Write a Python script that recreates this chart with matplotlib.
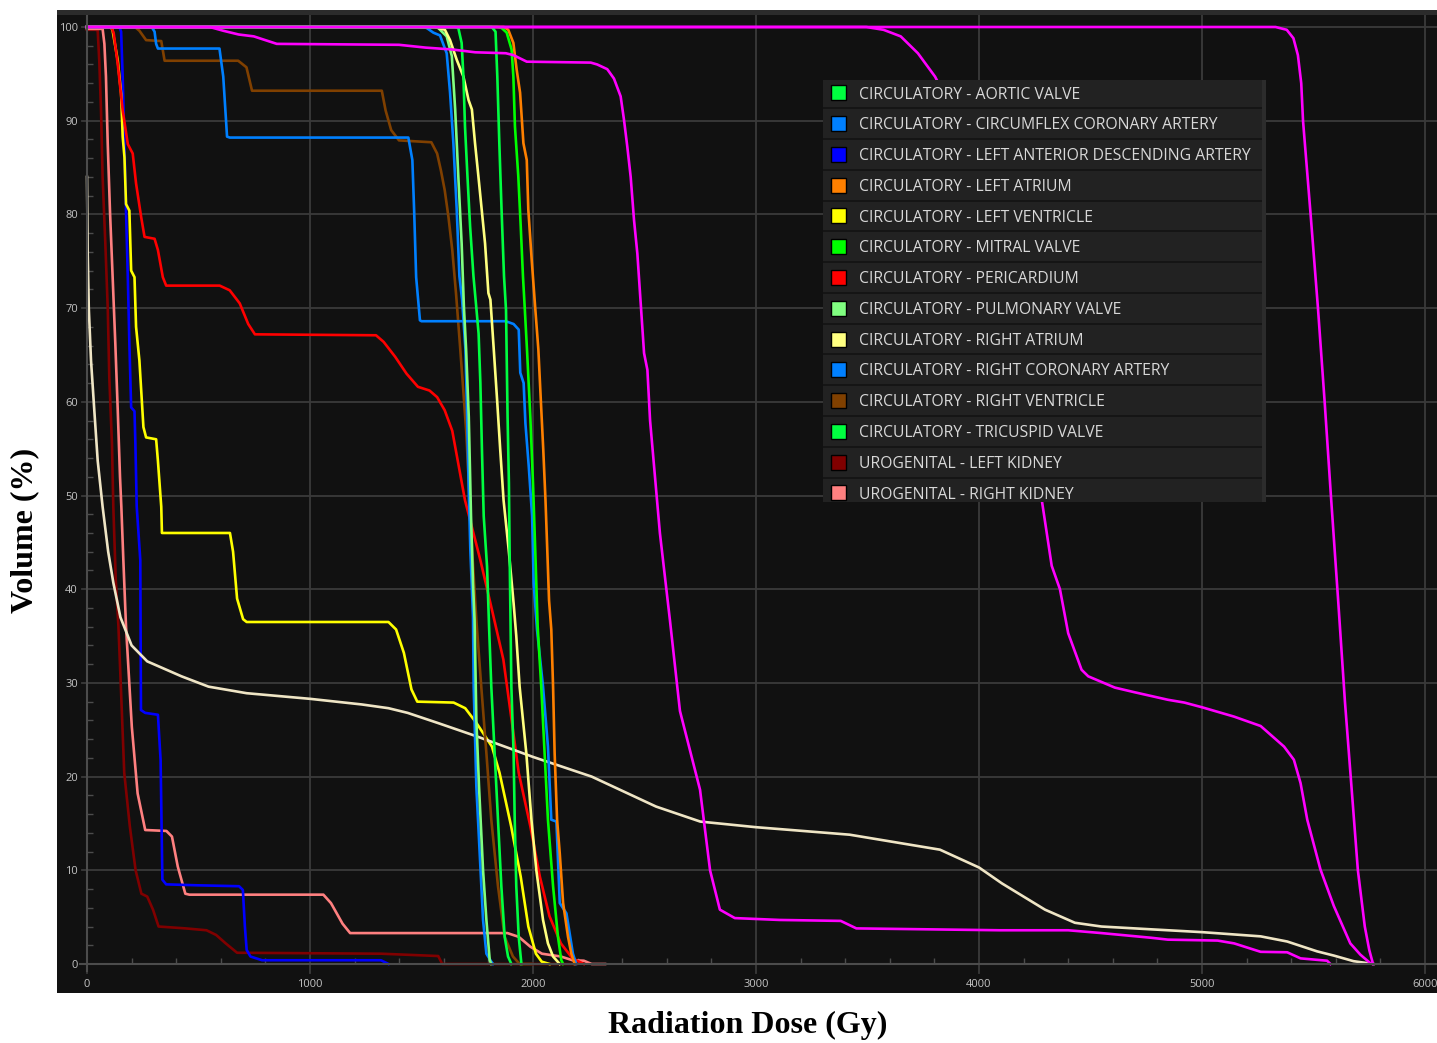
import matplotlib
matplotlib.use("Agg")
import matplotlib.pyplot as plt
from matplotlib.patches import Rectangle
from matplotlib.ticker import FixedLocator

W, H = 1437, 1043

# ---- data (dose in Gy, volume in %) ----
names = [
    "CIRCULATORY - AORTIC VALVE",
    "CIRCULATORY - CIRCUMFLEX CORONARY ARTERY",
    "CIRCULATORY - LEFT ANTERIOR DESCENDING ARTERY",
    "CIRCULATORY - LEFT ATRIUM",
    "CIRCULATORY - LEFT VENTRICLE",
    "CIRCULATORY - MITRAL VALVE",
    "CIRCULATORY - PERICARDIUM",
    "CIRCULATORY - PULMONARY VALVE",
    "CIRCULATORY - RIGHT ATRIUM",
    "CIRCULATORY - RIGHT CORONARY ARTERY",
    "CIRCULATORY - RIGHT VENTRICLE",
    "CIRCULATORY - TRICUSPID VALVE",
    "UROGENITAL - LEFT KIDNEY",
    "UROGENITAL - RIGHT KIDNEY",
]
colors = ["#00ff40", "#0080ff", "#0000ff", "#ff8000", "#ffff00", "#00ff00", "#ff0000",
          "#80ff80", "#ffff80", "#0080ff", "#804000", "#00ff40", "#800000", "#ff8080"]

aortic_d = [0, 1815, 1832, 1840, 1849, 1859, 1870, 1879, 1886, 1892, 1895, 1903, 1913, 1918, 1925, 1936, 1948]
aortic_v = [100, 100, 99.5, 94.7, 87.6, 80.5, 73.4, 69.8, 58.4, 51.3, 44.2, 29.6, 22.5, 15.4, 8.3, 2.9, 0]

circumflex_d = [0, 1505, 1523, 1553, 1583, 1613, 1628, 1643, 1658, 1670, 1682, 1697, 1704, 1711, 1719,
                1731, 1734, 1746, 1761, 1776, 1791, 1813, 1821]
circumflex_v = [100, 100, 99.9, 99.4, 99.1, 97.2, 93, 87.6, 80.5, 73.4, 70.9, 65.6, 59.1, 51.3, 44.2,
                37, 29.6, 18.9, 11.8, 4.7, 1.1, 0.25, 0]

lad_d = [0, 145, 153, 160, 168, 175, 183, 190, 198, 213, 217, 223, 239, 242, 261, 318, 330, 338, 355,
         493, 682, 699, 708, 716, 733, 785, 1318, 1352]
lad_v = [100, 100, 99.5, 94.7, 87.5, 80.4, 73.3, 66.2, 59.4, 59, 55.5, 48.8, 43.1, 27.1, 26.8, 26.6, 21.8, 9, 8.5,
         8.4, 8.3, 7.9, 4, 1.5, 0.8, 0.4, 0.4, 0]

latrium_d = [0, 1870, 1889, 1912, 1927, 1942, 1957, 1972, 1979, 1994, 2010, 2024, 2035, 2046, 2056, 2064,
             2072, 2082, 2090, 2097, 2108, 2120, 2135, 2157, 2172, 2187]
latrium_v = [100, 100, 99.7, 98.3, 95.4, 93, 87.6, 85.8, 80.5, 75.2, 70, 65.6, 60.2, 54.9, 49.5, 44.2,
             38.8, 35.7, 29.6, 22.5, 15.4, 11.8, 6.5, 2.9, 1.1, 0]

lvent_d = [0, 108, 115, 138, 153, 160, 168, 175, 190, 198, 213, 220, 235, 253, 265, 310, 318, 333, 336,
           641, 655, 673, 700, 716, 1352, 1386, 1421, 1455, 1481, 1644, 1696, 1747, 1816, 1850, 1902,
           1945, 1979, 2013, 2039, 2074]
lvent_v = [100, 100, 99.6, 96.4, 92.9, 88.3, 86.1, 81.1, 80.4, 74, 73.3, 68, 64.4, 57.3, 56.2, 56, 53.7, 48.8, 46,
           46, 44, 39, 36.8, 36.5, 36.5, 35.7, 33.2, 29.3, 28, 27.9, 27.3, 25.7, 23.2, 20.4, 14.7,
           9.3, 4, 1.1, 0.25, 0]

mitral_d = [0, 1840, 1859, 1882, 1904, 1912, 1919, 1934, 1945, 1955, 1963, 1973, 1988, 2000, 2010, 2021,
            2037, 2052, 2067, 2090, 2112, 2127, 2135]
mitral_v = [100, 100, 99.9, 99.4, 97.6, 94.7, 89.4, 84.1, 78.7, 73.4, 70, 65.6, 58.4, 51.3, 44.2, 36,
            29.6, 22.5, 15.4, 8.3, 2.9, 0.4, 0]

peri_d = [0, 110, 120, 138, 160, 183, 205, 220, 243, 258, 303, 318, 340, 355, 595, 640, 685, 723, 753,
          1296, 1330, 1382, 1433, 1484, 1536, 1570, 1604, 1638, 1695, 1764, 1816, 1867, 1902, 1936,
          1988, 2031, 2074, 2125, 2177, 2228]
peri_v = [100, 100, 99.3, 96, 91.1, 87.5, 86.5, 83.3, 79.7, 77.6, 77.4, 76.2, 73.3, 72.4, 72.4, 71.9, 70.5, 68.3, 67.2,
          67.1, 66.4, 64.8, 63, 61.6, 61.2, 60.5, 59.1, 56.9, 49.5, 43.1, 37.8, 32.5, 26.4, 20.4,
          14.7, 9.3, 5.1, 2.2, 0.6, 0]

pulm_d = [0, 1560, 1575, 1613, 1636, 1651, 1665, 1680, 1690, 1700, 1712, 1722, 1731, 1738, 1746, 1758,
          1776, 1791, 1806, 1813]
pulm_v = [100, 100, 99.9, 99, 96.9, 91.2, 84.1, 76.9, 70.2, 65.6, 58.4, 47.8, 40.6, 36.7, 26, 18.9,
          10, 4.7, 0.4, 0]

ratrium_d = [0, 1560, 1575, 1605, 1628, 1658, 1688, 1711, 1726, 1740, 1755, 1770, 1785, 1800, 1809, 1824,
             1839, 1853, 1868, 1891, 1913, 1925, 1940, 1970, 1993, 2015, 2045, 2067, 2090, 2120]
ratrium_v = [100, 100, 99.9, 99.7, 98.6, 96.5, 94.7, 92.2, 91.2, 87.6, 84.1, 80.5, 76.9, 71.6, 70.9, 65.6,
             60.2, 54.9, 49.5, 44.2, 38.5, 35, 29.6, 22.5, 15.4, 10, 4.7, 2.2, 0.8, 0]

rca_d = [0, 290, 303, 310, 318, 594, 611, 628, 640, 1441, 1459, 1467, 1476, 1493, 1500, 1878, 1913,
         1936, 1943, 1958, 1966, 1981, 1996, 2003, 2018, 2045, 2067, 2082, 2105, 2120, 2150, 2179, 2194]
rca_v = [100, 100, 99.5, 98.2, 97.7, 97.7, 94.7, 88.3, 88.2, 88.2, 85.8, 80.4, 73.3, 68.7, 68.6, 68.6, 68.3,
         67.7, 63.1, 62, 57.7, 53.1, 47.8, 40.6, 35.7, 29.6, 23.2, 15.4, 15.2, 6.5, 5.4, 1.1, 0]

rvent_d = [0, 215, 235, 265, 333, 348, 363, 678, 715, 740, 1322, 1339, 1364, 1399, 1544, 1570, 1587,
           1604, 1621, 1638, 1655, 1672, 1685, 1700, 1715, 1730, 1746, 1768, 1791, 1813, 1843, 1873,
           1910, 1940, 1990]
rvent_v = [100, 100, 99.6, 98.6, 98.5, 96.4, 96.4, 96.4, 95.7, 93.2, 93.2, 91.1, 89, 87.9, 87.7, 86.5, 84.7,
           82.6, 79.7, 76.2, 71.5, 66.2, 62, 57, 50, 43, 36.7, 29.6, 22.5, 15.4, 8.3, 2.9,
           0.8, 0, 0]

tricusp_d = [0, 1650, 1665, 1680, 1688, 1695, 1706, 1718, 1733, 1746, 1756, 1764, 1771, 1779, 1794, 1803,
             1813, 1828, 1843, 1858, 1873, 1888, 1903]
tricusp_v = [100, 100, 99.9, 98.3, 94.7, 89.4, 84.1, 78.7, 73.4, 70, 67.3, 62, 54.9, 47.8, 42.4, 36,
             29.6, 22.5, 15.4, 8.3, 2.9, 0.8, 0]

lkid_d = [0, 40, 48, 55, 63, 70, 82, 93, 100, 112, 118, 129, 141, 153, 167, 192, 218, 244, 270, 296, 321,
          442, 536, 579, 622, 673, 1318, 1575, 1593, 2197]
lkid_v = [99.7, 99.7, 99.6, 96.4, 91, 84, 77, 70, 62.6, 55.5, 48.8, 41, 36, 28.9, 20.4, 14.7, 10, 7.5, 7.2, 5.8, 4,
          3.8, 3.6, 3.1, 2.2, 1.2, 1.1, 0.85, 0, 0]

rkid_d = [0, 70, 78, 85, 93, 103, 115, 127, 138, 148, 154, 163, 175, 201, 227, 261, 356, 381, 407, 441,
          459, 1060, 1094, 1146, 1180, 1885, 1936, 1988, 2040, 2125, 2177, 2228, 2263, 2323]
rkid_v = [99.8, 99.8, 98.2, 94.7, 87.5, 80.4, 73.3, 66.2, 59, 52, 48.8, 43.1, 36, 25.3, 18.2, 14.3, 14.2, 13.6, 10.4, 7.5,
          7.4, 7.4, 6.5, 4.3, 3.3, 3.3, 2.9, 1.85, 1.1, 0.8, 0.4, 0.35, 0, 0]

# curves without a visible legend entry
cream_d = [0, 3, 8, 18, 33, 48, 70, 95, 118, 150, 200, 270, 424, 545, 716, 1000, 1232, 1352, 1438, 1576,
           1747, 2000, 2263, 2552, 2750, 3000, 3420, 3825, 4000, 4103, 4296, 4430, 4549, 4772, 5000,
           5263, 5382, 5516, 5591, 5680, 5769]
cream_v = [84, 76, 70, 64.4, 59, 53.7, 48.8, 44, 40.7, 37, 34, 32.3, 30.7, 29.6, 28.9, 28.3, 27.7, 27.3, 26.8, 25.7,
           24.3, 22.1, 20, 16.8, 15.2, 14.6, 13.8, 12.2, 10.3, 8.6, 5.8, 4.4, 4.0, 3.7, 3.4,
           2.95, 2.4, 1.35, 0.9, 0.3, 0]

magA_d = [0, 551, 611, 680, 748, 851, 1399, 1519, 1638, 1741, 1878, 1912, 1972, 2259, 2288, 2333, 2363,
          2393, 2408, 2423, 2438, 2453, 2468, 2483, 2498, 2513, 2525, 2569, 2614, 2659, 2704, 2749,
          2794, 2838, 2905, 3107, 3380, 3450, 4094, 4400, 4549, 4772, 4847, 5070, 5144, 5263, 5382,
          5442, 5561, 5576]
magA_v = [100, 100, 99.6, 99.2, 99, 98.2, 98.1, 97.8, 97.6, 97.3, 97.2, 97, 96.3, 96.2, 96.0, 95.5, 94.5,
          92.6, 90.1, 87.2, 84, 79.4, 75.8, 70.5, 65.2, 63.4, 58, 46, 36.7, 27, 22.8, 18.6,
          10, 5.8, 4.9, 4.7, 4.6, 3.8, 3.6, 3.6, 3.3, 2.8, 2.6, 2.5, 2.2, 1.3, 1.25,
          0.6, 0.35, 0]

magB_d = [0, 3495, 3572, 3649, 3726, 3803, 3879, 3950, 4050, 4150, 4230, 4281, 4326, 4363, 4400, 4460,
          4490, 4609, 4698, 4847, 4921, 5000, 5144, 5263, 5368, 5412, 5442, 5472, 5531, 5591, 5665,
          5710, 5754]
magB_v = [100, 100, 99.7, 99, 97.2, 94.7, 91.2, 82, 70, 60, 53, 49.6, 42.5, 40, 35.3, 31.4,
          30.7, 29.5, 29, 28.2, 27.9, 27.4, 26.4, 25.4, 23.2, 21.8, 19.3, 15.4, 10.1, 6.2, 2.2,
          1.0, 0.1]

magC_d = [0, 5330, 5380, 5410, 5430, 5445, 5453, 5487, 5520, 5550, 5578, 5610, 5641, 5670, 5699, 5730,
          5750, 5767]
magC_v = [100, 100, 99.7, 98.8, 97, 94, 90, 80, 70, 60, 50, 39, 28, 19, 10, 4, 1.5, 0]

curves = [
    (lkid_d, lkid_v, colors[12]),
    (rkid_d, rkid_v, colors[13]),
    (lad_d, lad_v, colors[2]),
    (lvent_d, lvent_v, colors[4]),
    (peri_d, peri_v, colors[6]),
    (cream_d, cream_v, "#efe5c5"),
    (rvent_d, rvent_v, colors[10]),
    (rca_d, rca_v, colors[9]),
    (circumflex_d, circumflex_v, colors[1]),
    (pulm_d, pulm_v, colors[7]),
    (ratrium_d, ratrium_v, colors[8]),
    (latrium_d, latrium_v, colors[3]),
    (mitral_d, mitral_v, colors[5]),
    (tricusp_d, tricusp_v, colors[11]),
    (aortic_d, aortic_v, colors[0]),
    (magC_d, magC_v, "#ff00ff"),
    (magB_d, magB_v, "#ff00ff"),
    (magA_d, magA_v, "#ff00ff"),
]

# ---- layout helpers (image pixel coords, origin top-left) ----
def fx(px):
    return px / W

def fy(py):
    return 1 - py / H

def box(x0, y0, x1, y1, color, **kw):
    r = Rectangle((fx(x0), fy(y1)), (x1 - x0) / W, (y1 - y0) / H, transform=fig.transFigure,
                  facecolor=color, edgecolor=kw.pop("ec", "none"), **kw)
    fig.add_artist(r)
    return r

fig = plt.figure(figsize=(W / 100, H / 100), dpi=100, facecolor="white")
ax = fig.add_axes([fx(57), fy(993), (1437 - 57) / W, (993 - 15) / H])
ax.set_facecolor("#111111")
box(57, 10, 1437, 15, "#2b2b2b")

# axis scale: 0 Gy at px 87, 223 px per 1000 Gy; 0 % at px 964, 100 % at px 27
gy_px = 0.223
pct_px = (964 - 27) / 100
xmin, xmax = -(87 - 57) / gy_px, (1437 - 87) / gy_px
ymin, ymax = -(993 - 964) / pct_px, 100 + (27 - 15) / pct_px
ax.set_xlim(xmin, xmax)
ax.set_ylim(ymin, ymax)

grid_c = "#3a3a3a"
for xv in range(0, 7000, 1000):
    ax.axvline(xv, ymin=0.02, color=grid_c, lw=1.3, zorder=0.5)
for yv in range(0, 110, 10):
    ax.axhline(yv, xmin=0.018, color=grid_c, lw=1.3, zorder=0.5)

for s in ["top", "right"]:
    ax.spines[s].set_visible(False)
for s in ["left", "bottom"]:
    ax.spines[s].set_position(("data", 0))
    ax.spines[s].set_color("#4c4c4c")
    ax.spines[s].set_linewidth(1.5)
ax.spines["left"].set_bounds(-0.7, ymax)
ax.spines["bottom"].set_bounds(-30, xmax)

ax.set_xticks(range(0, 7000, 1000))
ax.set_yticks(range(0, 110, 10))
ax.xaxis.set_minor_locator(FixedLocator([v for v in range(200, 6001, 200) if v % 1000]))
ax.yaxis.set_minor_locator(FixedLocator([v for v in range(2, 101, 2) if v % 10]))
ax.tick_params(which="major", length=0, labelsize=8, labelcolor="#c4c4c4")
ax.tick_params(axis="y", which="major", pad=6.5)
ax.tick_params(axis="x", which="major", pad=10.5)
ax.tick_params(which="minor", direction="in", length=4, width=1, color="#4c4c4c")
for lab in ax.get_xticklabels() + ax.get_yticklabels():
    lab.set_fontfamily("Open Sans")

for d, v, c in curves:
    ax.plot(d, v, color=c, lw=1.9, solid_joinstyle="round", zorder=2)

# ---- legend panel ----
box(823, 80, 1266, 502, "#151515")
box(1262, 80, 1266, 502, "#2c2c2c")
row_top, row_h = 77.5, 30.77
texts = []
for i, (nm, c) in enumerate(zip(names, colors)):
    y0 = max(80, row_top + i * row_h + 1)
    y1 = min(502, row_top + (i + 1) * row_h - 1)
    box(823, y0, 1262, y1, "#222222")
    yc = row_top + (i + 0.5) * row_h
    box(831, yc - 7.5, 846, yc + 7.5, c, ec="black", lw=1)
    t = fig.text(fx(859), fy(yc), nm, color="#d8d8d8", fontfamily="Open Sans",
                 fontsize=11, ha="left", va="baseline")
    texts.append((t, yc))

# fit label size so the longest row spans like the reference (~391 px)
renderer = fig.canvas.get_renderer()
w = texts[2][0].get_window_extent(renderer).width
fs = 11 * 391 / w
for t, yc in texts:
    t.set_fontsize(fs)
    cap = 0.714 * fs * 100 / 72
    t.set_y(fy(yc + cap / 2))

# ---- axis titles ----
fig.text(fx(748), fy(1025), "Radiation Dose (Gy)", fontfamily="Liberation Serif", fontweight="bold",
         fontsize=23, ha="center", va="center")
fig.text(fx(25), fy(530), "Volume (%)", fontfamily="Liberation Serif", fontweight="bold",
         fontsize=23, ha="center", va="center", rotation=90)

fig.savefig("out.png", dpi=100, facecolor="white")
